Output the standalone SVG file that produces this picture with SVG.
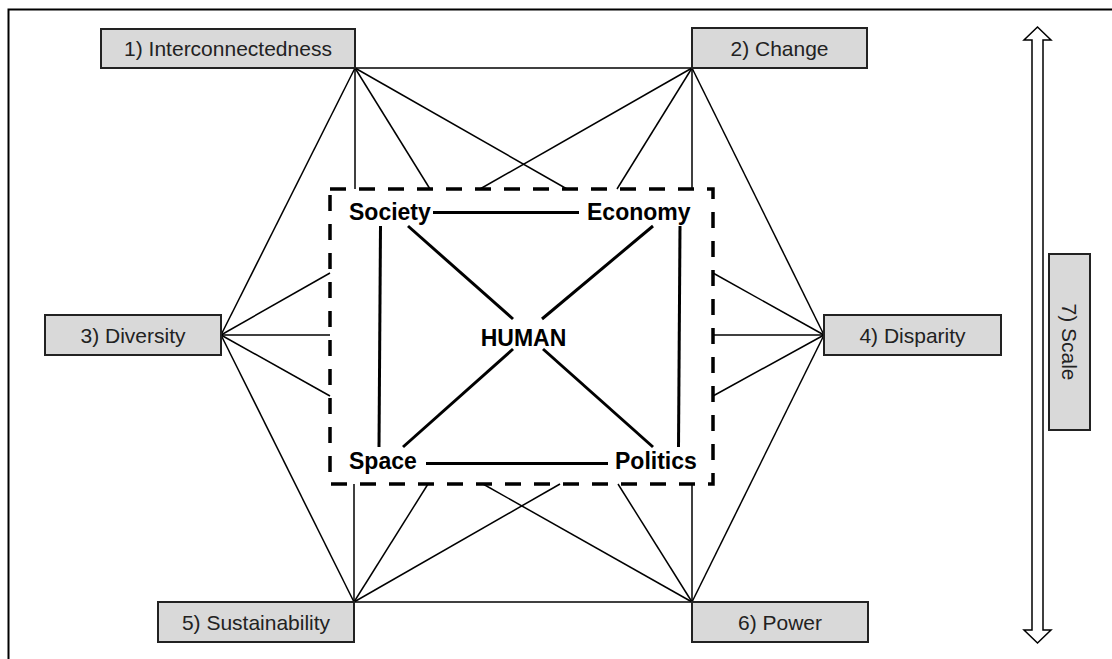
<svg xmlns="http://www.w3.org/2000/svg" width="1112" height="659" viewBox="0 0 1112 659">
<style>
.box{fill:#d9d9d9;stroke:#222;stroke-width:2}
.lbl{font-family:"Liberation Sans",Arial,sans-serif;font-size:21px;fill:#222;text-anchor:middle}
.core{font-family:"Liberation Sans",Arial,sans-serif;font-size:23px;font-weight:bold;fill:#000}
.thin{stroke:#000;stroke-width:1.5;fill:none}
.thick{stroke:#000;stroke-width:3;fill:none}
</style>
<rect width="1112" height="659" fill="#fff"/>
<rect x="8.5" y="9.5" width="1200" height="700" fill="none" stroke="#000" stroke-width="2"/>

<g id="connectors">
  <g class="thin">
    <line x1="355" y1="68" x2="692" y2="68"/>
    <line x1="355" y1="68" x2="355" y2="189"/>
    <line x1="355" y1="68" x2="430" y2="189"/>
    <line x1="355" y1="68" x2="567" y2="189"/>
    <line x1="692" y1="68" x2="480" y2="189"/>
    <line x1="692" y1="68" x2="617" y2="189"/>
    <line x1="692" y1="68" x2="692" y2="189"/>
    <line x1="355" y1="68" x2="221" y2="335"/>
    <line x1="692" y1="68" x2="824" y2="335"/>
    <line x1="221" y1="335" x2="330" y2="273"/>
    <line x1="221" y1="335" x2="330" y2="335"/>
    <line x1="221" y1="335" x2="330" y2="396"/>
    <line x1="221" y1="335" x2="354" y2="602"/>
    <line x1="824" y1="335" x2="713" y2="273"/>
    <line x1="824" y1="335" x2="713" y2="335"/>
    <line x1="824" y1="335" x2="713" y2="396"/>
    <line x1="824" y1="335" x2="692" y2="602"/>
    <line x1="354" y1="602" x2="692" y2="602"/>
    <line x1="354" y1="602" x2="354" y2="484"/>
    <line x1="354" y1="602" x2="428" y2="484"/>
    <line x1="354" y1="602" x2="560" y2="484"/>
    <line x1="692" y1="602" x2="483" y2="484"/>
    <line x1="692" y1="602" x2="618" y2="484"/>
    <line x1="692" y1="602" x2="692" y2="484"/>
  </g>
  <g class="thick">
    <line x1="433" y1="212.5" x2="579" y2="212.5"/>
    <line x1="426" y1="463.5" x2="608" y2="463.5"/>
    <line x1="380.5" y1="226" x2="379" y2="447"/>
    <line x1="680" y1="226" x2="678.5" y2="447"/>
    <line x1="408" y1="226" x2="513" y2="319"/>
    <line x1="653" y1="226" x2="542" y2="319"/>
    <line x1="403" y1="447" x2="513" y2="349"/>
    <line x1="653" y1="447" x2="543" y2="349"/>
  </g>
</g>

<g id="frame">
  <rect x="330" y="189" width="383" height="295" fill="none" stroke="#000" stroke-width="3.5" stroke-dasharray="16 13"/>
</g>

<g id="n1"><rect class="box" x="101" y="29" width="254" height="39"/><text class="lbl" x="228" y="56">1) Interconnectedness</text></g>
<g id="n2"><rect class="box" x="692" y="28" width="175" height="40"/><text class="lbl" x="779.5" y="56">2) Change</text></g>
<g id="n3"><rect class="box" x="45" y="315" width="176" height="40"/><text class="lbl" x="133" y="342.5">3) Diversity</text></g>
<g id="n4"><rect class="box" x="824" y="315" width="177" height="40"/><text class="lbl" x="912.5" y="342.5">4) Disparity</text></g>
<g id="n5"><rect class="box" x="158" y="602" width="196" height="40"/><text class="lbl" x="256" y="629.5">5) Sustainability</text></g>
<g id="n6"><rect class="box" x="692" y="602" width="176" height="40"/><text class="lbl" x="780" y="629.5">6) Power</text></g>
<g id="n7"><rect class="box" x="1049" y="254" width="41" height="176"/><text class="lbl" transform="translate(1062,342) rotate(90)">7) Scale</text></g>
<g id="scale-arrow">
  <path d="M1037.5,27 L1051,40 L1043,40 L1043,630 L1051,630 L1037.5,643 L1024,630 L1032,630 L1032,40 L1024,40 Z" fill="#fff" stroke="#000" stroke-width="1.5" stroke-linejoin="miter"/>
</g>

<g id="society"><text class="core" x="349" y="220">Society</text></g>
<g id="economy"><text class="core" x="587" y="220">Economy</text></g>
<g id="space"><text class="core" x="349" y="469">Space</text></g>
<g id="politics"><text class="core" x="615" y="469">Politics</text></g>
<g id="human"><text class="core" x="523.5" y="346" font-size="26" text-anchor="middle">HUMAN</text></g>
</svg>
